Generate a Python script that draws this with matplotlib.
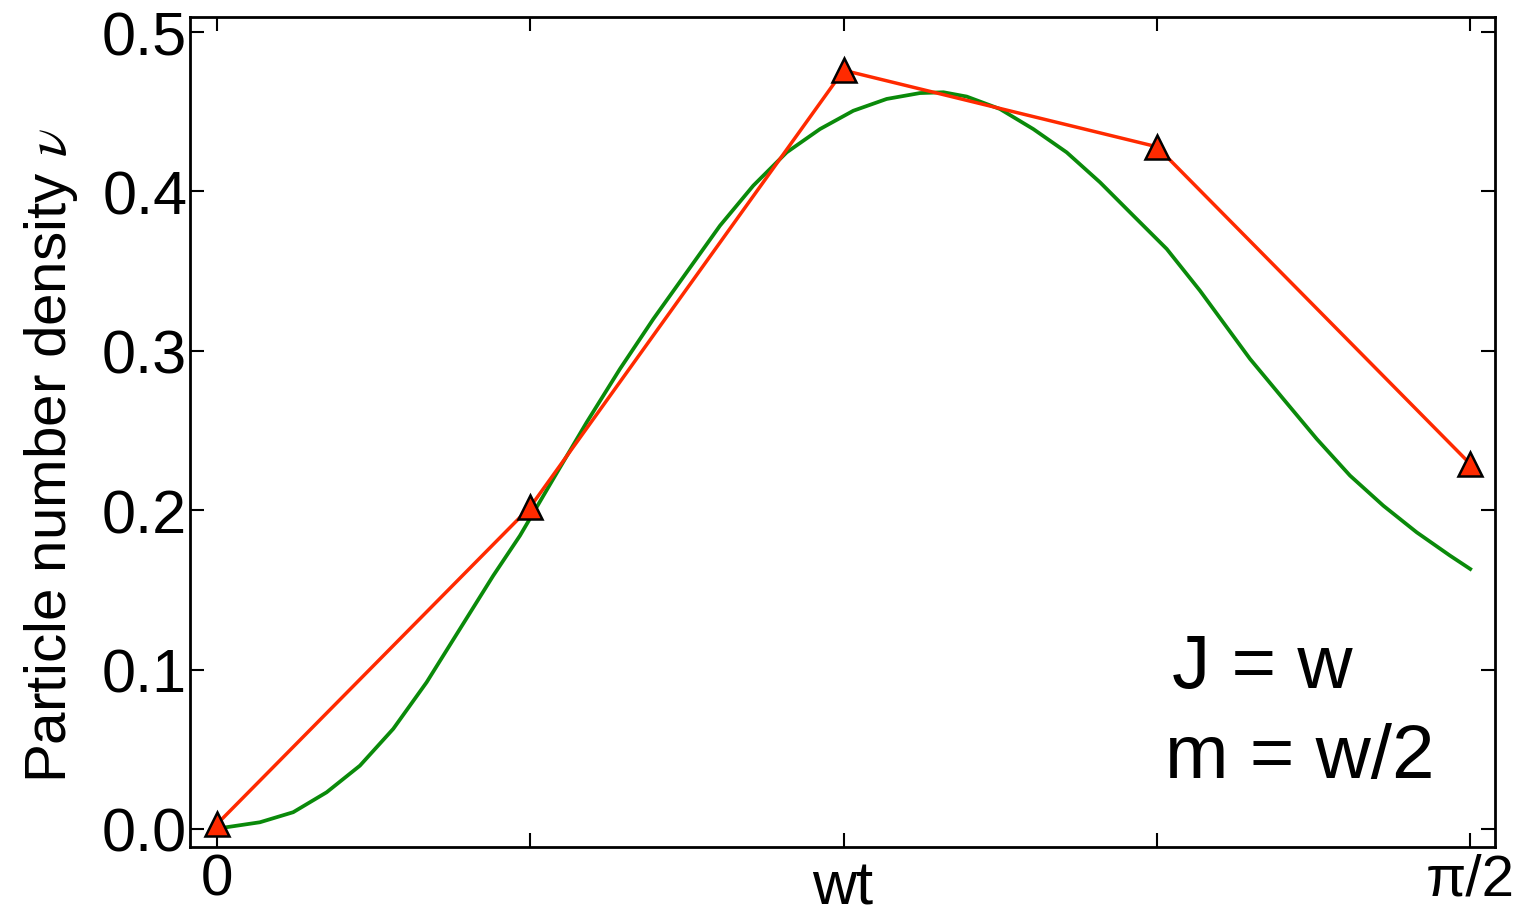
import numpy as np
import matplotlib
matplotlib.use("Agg")
import matplotlib.pyplot as plt

plt.rcParams['font.family'] = ['Liberation Sans', 'DejaVu Sans']
plt.rcParams['mathtext.fontset'] = 'stix'

# red markers (simulation points)
x_pts = [0.0, np.pi/8, np.pi/4, 3*np.pi/8, np.pi/2]
y_pts = [0.003, 0.202, 0.476, 0.428, 0.229]

# green curve
x_curve = [0.0, 0.0122, 0.0539, 0.0956, 0.1375, 0.1792, 0.2210, 0.2628, 0.3046,
           0.3463, 0.3798, 0.4215, 0.4634, 0.5051, 0.5469, 0.5887, 0.6305,
           0.6722, 0.7141, 0.7558, 0.7976, 0.8394, 0.8811, 0.9106, 0.9397,
           0.9814, 1.0232, 1.0650, 1.1068, 1.1485, 1.1904, 1.2321, 1.2948,
           1.3365, 1.3784, 1.4201, 1.4619, 1.5037, 1.5454, 1.5708]
y_curve = [0.0, 0.0011, 0.0042, 0.0105, 0.0230, 0.0397, 0.0628, 0.0920, 0.1255,
           0.1589, 0.1840, 0.2196, 0.2551, 0.2886, 0.3199, 0.3492, 0.3785,
           0.4036, 0.4245, 0.4391, 0.4506, 0.4580, 0.4617, 0.4622, 0.4595,
           0.4517, 0.4391, 0.4245, 0.4057, 0.3848, 0.3639, 0.3377, 0.2949,
           0.2698, 0.2447, 0.2217, 0.2028, 0.1861, 0.1715, 0.1631]

x_ticks = [0.0, np.pi/8, np.pi/4, 3*np.pi/8, np.pi/2]
x_ticklabels = ['0', '', '', '', 'π/2']
y_ticks = [0.0, 0.1, 0.2, 0.3, 0.4, 0.5]
y_ticklabels = ['0.0', '0.1', '0.2', '0.3', '0.4', '0.5']

fig = plt.figure(figsize=(15.22, 9.2), dpi=100)
ax = fig.add_axes([0.1248, 0.0783, 0.8575, 0.9021])

ax.plot(x_curve, y_curve, color='#0a8a0a', lw=2.7, zorder=2)
ax.plot(x_pts, y_pts, color='#ff2a00', lw=2.5, marker='^', ms=17,
        mfc='#ff2a00', mec='black', mew=1.8, zorder=3, clip_on=False)

ax.set_xlim(-0.0338, 1.6019)
ax.set_ylim(-0.0113, 0.5094)
ax.set_xticks(x_ticks)
ax.set_xticklabels(x_ticklabels)
ax.set_yticks(y_ticks)
ax.set_yticklabels(y_ticklabels)

ax.tick_params(direction='in', length=10, width=1.5, top=True, right=True,
               labelsize=44, pad=2)
ax.tick_params(axis='x', labelsize=42, pad=4)
for s in ax.spines.values():
    s.set_linewidth(2)

ax.set_xlabel('wt', fontsize=44)
ax.xaxis.set_label_coords(0.5, -0.0687)
ax.xaxis.label.set_va('baseline')
ax.set_ylabel(r'Particle number density $\nu$', fontsize=42)
ax.yaxis.set_label_coords(-0.084, 0.473)

ax.text(0.7525, 0.1928, 'J = w', transform=ax.transAxes, fontsize=55,
        va='baseline', ha='left')
ax.text(0.7470, 0.0843, 'm = w/2', transform=ax.transAxes, fontsize=55,
        va='baseline', ha='left')

fig.savefig('out.png', dpi=100)
